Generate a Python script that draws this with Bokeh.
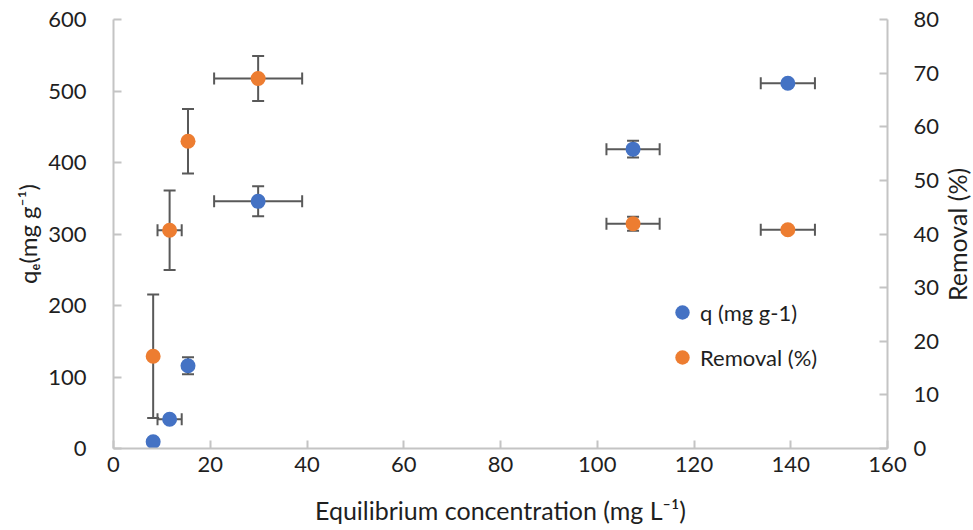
import math
from bokeh.plotting import figure
from bokeh.models import (Range1d, LinearAxis, ColumnDataSource, Whisker, TeeHead,
                          Legend, LegendItem, SingleIntervalTicker, Label)
from bokeh.embed import file_html
from bokeh.resources import INLINE

# ---- data ----
conc = [8.2, 11.6, 15.4, 29.9, 107.4, 139.4]          # equilibrium concentration (mg L-1)
conc_err = [0.0, 2.5, 0.0, 9.1, 5.5, 5.6]
q = [9.5, 41.0, 115.7, 345.7, 418.7, 510.8]           # q (mg g-1)
q_err = [2.0, 2.0, 12.0, 21.0, 11.6, 2.0]
removal = [17.2, 40.7, 57.3, 69.0, 41.9, 40.8]        # removal (%)
removal_err = [11.5, 7.4, 6.0, 4.2, 1.3, 0.5]

BLUE = "#4472C4"
ORANGE = "#ED7D31"
ERR = "#595959"
AX = "#C4C4C4"
TXT = "#1F1F1F"
FONT = "Lato"
FS = "22px"
TFS = "25px"

src = ColumnDataSource(dict(
    x=conc, xlo=[a - b for a, b in zip(conc, conc_err)], xhi=[a + b for a, b in zip(conc, conc_err)],
    q=q, qlo=[a - b for a, b in zip(q, q_err)], qhi=[a + b for a, b in zip(q, q_err)],
    r=removal, rlo=[a - b for a, b in zip(removal, removal_err)], rhi=[a + b for a, b in zip(removal, removal_err)],
))

p = figure(width=973, height=530, output_backend="svg", toolbar_location=None,
           x_range=Range1d(0, 160), y_range=Range1d(0, 600),
           min_border_left=113, min_border_right=86, min_border_top=19, min_border_bottom=82)
p.extra_y_ranges = {"rem": Range1d(0, 80)}
p.outline_line_color = None
p.xgrid.visible = False
p.ygrid.visible = False
p.background_fill_color = "white"
p.border_fill_color = "white"

def style_axis(ax):
    ax.axis_line_color = AX
    ax.axis_line_width = 2
    ax.major_tick_line_color = AX
    ax.major_tick_line_width = 2
    ax.major_tick_in = 8
    ax.major_tick_out = 0
    ax.minor_tick_line_color = None
    ax.major_label_text_font = FONT
    ax.major_label_text_font_size = FS
    ax.major_label_text_color = TXT
    ax.axis_label_text_font = FONT
    ax.axis_label_text_font_size = TFS
    ax.axis_label_text_font_style = "normal"
    ax.axis_label_text_color = TXT

xa = p.xaxis[0]
style_axis(xa)
xa.ticker = SingleIntervalTicker(interval=20)
xa.major_label_standoff = 4
xa.axis_label = "Equilibrium concentration (mg L\u207b\u00b9)"
xa.axis_label_standoff = 20

ya = p.yaxis[0]
style_axis(ya)
ya.ticker = SingleIntervalTicker(interval=100)
ya.major_label_standoff = 23
ya.axis_label = "q\u2091(mg g\u207b\u00b9)"
ya.axis_label_text_font_size = "24px"
ya.axis_label_standoff = 3

ra = LinearAxis(y_range_name="rem", ticker=SingleIntervalTicker(interval=10))
style_axis(ra)
ra.major_label_standoff = 22
p.add_layout(ra, "right")

# right-axis title, reading bottom-to-top as in the reference
p.add_layout(Label(x=956, y=234, x_units="canvas", y_units="canvas", text="Removal (%)",
                   angle=math.pi / 2, text_align="center", text_baseline="middle",
                   text_font=FONT, text_font_size=TFS, text_color=TXT), "right")

def whisk(base, lo, hi, dim, rng=None):
    kw = dict(base=base, lower=lo, upper=hi, source=src, dimension=dim,
              line_color=ERR, line_width=2,
              upper_head=TeeHead(size=12, line_color=ERR, line_width=2),
              lower_head=TeeHead(size=12, line_color=ERR, line_width=2))
    if rng:
        kw["y_range_name"] = rng
    p.add_layout(Whisker(**kw))

# q error bars
whisk("x", "qlo", "qhi", "height")
whisk("q", "xlo", "xhi", "width")
# removal error bars
whisk("x", "rlo", "rhi", "height", "rem")
whisk("r", "xlo", "xhi", "width", "rem")

rq = p.scatter("x", "q", source=src, size=15, fill_color=BLUE, line_color=None)
rr = p.scatter("x", "r", source=src, size=15, fill_color=ORANGE, line_color=None, y_range_name="rem")

legend = Legend(items=[LegendItem(label="q (mg g-1)", renderers=[rq]),
                       LegendItem(label="Removal (%)", renderers=[rr])],
                location=(551, 73), orientation="vertical",
                glyph_width=36, glyph_height=36, label_standoff=-20, spacing=9,
                padding=0, margin=0,
                label_text_font=FONT, label_text_font_size=FS, label_text_color=TXT,
                background_fill_alpha=0, border_line_color=None)
p.add_layout(legend)

open("out.html", "w").write(file_html(p, INLINE))
